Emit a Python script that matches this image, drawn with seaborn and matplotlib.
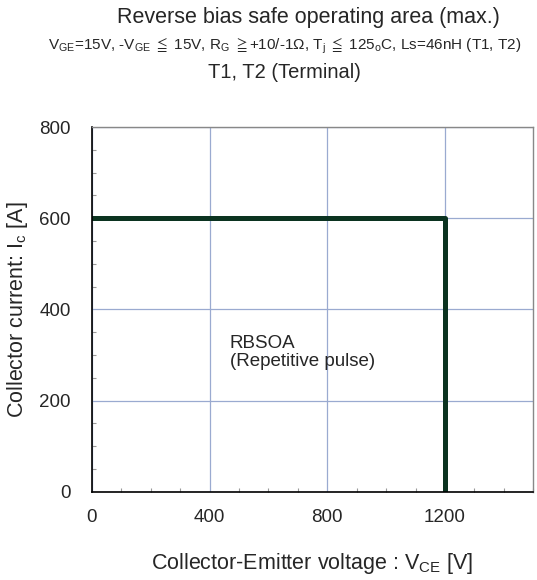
import numpy as np
import pandas as pd
import matplotlib
matplotlib.use("Agg")
import matplotlib.pyplot as plt
from matplotlib.ticker import MultipleLocator
import seaborn as sns

# RBSOA boundary (max.)
vce = [0, 1200, 1200]
ic = [600, 600, 0]
x_ticks = [0, 400, 800, 1200]
y_ticks = [0, 200, 400, 600, 800]

sns.set_style("white")
plt.rcParams['font.family'] = ['Liberation Sans', 'DejaVu Sans']
plt.rcParams['mathtext.fontset'] = 'custom'
plt.rcParams['mathtext.rm'] = 'Liberation Sans'
plt.rcParams['mathtext.it'] = 'Liberation Sans:italic'
plt.rcParams['mathtext.fallback'] = 'stix'

df = pd.DataFrame({"vce": vce, "ic": ic})

fig = plt.figure(figsize=(5.37, 5.8), dpi=100)
ax = fig.add_axes([0.171, 0.152, 0.822, 0.629])
sns.lineplot(data=df, x="vce", y="ic", sort=False, estimator=None,
             color="#0b3320", lw=3.6, ax=ax)

ax.set_xlim(0, 1500)
ax.set_ylim(0, 800)
ax.set_xticks(x_ticks)
ax.set_yticks(y_ticks)
ax.xaxis.set_minor_locator(MultipleLocator(100))
ax.yaxis.set_minor_locator(MultipleLocator(50))
ax.tick_params(which='major', length=0, labelsize=13.5)
ax.tick_params(axis='x', which='major', pad=12)
ax.tick_params(axis='y', which='major', pad=15)
ax.tick_params(which='minor', direction='in', length=3, color='#999999', width=0.8)
ax.tick_params(axis='x', which='minor', bottom=True)
ax.tick_params(axis='y', which='minor', left=True)
ax.grid(True, which='major', color='#9aaad0', lw=0.9)
ax.set_axisbelow(True)

for s in ['left', 'bottom']:
    ax.spines[s].set_color('black')
    ax.spines[s].set_linewidth(1.2)
for s in ['top', 'right']:
    ax.spines[s].set_color('#888888')
    ax.spines[s].set_linewidth(1.0)

ax.set_xlabel(r"Collector-Emitter voltage : V$_{\mathregular{CE}}$ [V]", fontsize=15.5, labelpad=18)
ax.set_ylabel(r"Collector current: I$_{\mathregular{c}}$ [A]", fontsize=15.5, labelpad=7)

ax.text(469, 305, "RBSOA\n(Repetitive pulse)", fontsize=13.5, va='center', ha='left',
        linespacing=1.1)

fig.text(308 / 537, 1 - 17 / 580, "Reverse bias safe operating area (max.)", fontsize=15.5,
         ha='center', va='center')
fig.text(285 / 537, 1 - 46 / 580,
         r"V$_{\mathregular{GE}}$=15V, -V$_{\mathregular{GE}}$ $\leqq$ 15V, "
         r"R$_{\mathregular{G}}$ $\geqq$+10/-1Ω, T$_{\mathregular{j}}$ $\leqq$ "
         r"125$_{\mathregular{o}}$C, Ls=46nH (T1, T2)",
         fontsize=11, ha='center', va='center')
fig.text(284 / 537, 1 - 72 / 580, "T1, T2 (Terminal)", fontsize=14.5, ha='center', va='center')

fig.savefig("out.png", dpi=100)
